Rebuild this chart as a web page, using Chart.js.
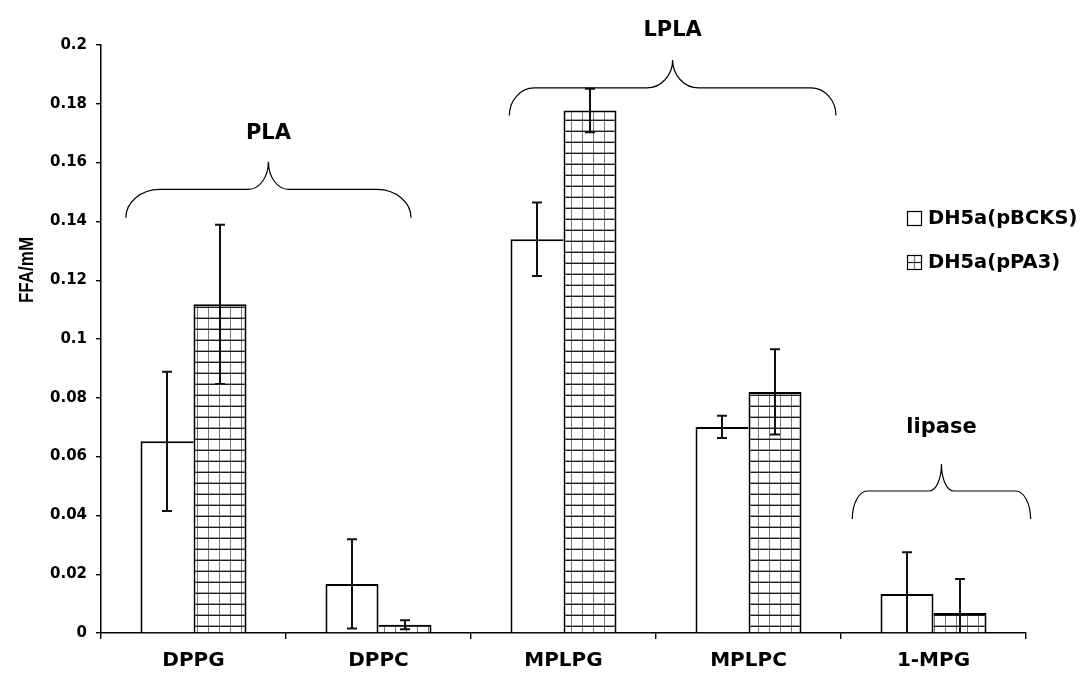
<!DOCTYPE html>
<html>
<head>
<meta charset="utf-8">
<script src="https://cdn.jsdelivr.net/npm/chart.js@4"></script>
<style>
  body { margin: 0; background: #fff; }
  #wrap { width: 1082px; height: 677px; }
</style>
</head>
<body>
<div id="wrap"><canvas id="chart" width="1082" height="677"></canvas></div>
<script>
const categories = ['DPPG', 'DPPC', 'MPLPG', 'MPLPC', '1-MPG'];
const seriesNames = ['DH5a(pBCKS)', 'DH5a(pPA3)'];
const pbcksValues = [0.0652, 0.0167, 0.1339, 0.0701, 0.0133];
const pbcksErrors = [0.0237, 0.0152, 0.0125, 0.0038, 0.0142];
const ppa3Values = [0.1118, 0.0028, 0.1777, 0.082, 0.0068];
const ppa3Errors = [0.0271, 0.0015, 0.0074, 0.0145, 0.0116];
const yMin = 0;
const yMax = 0.2;
const yStep = 0.02;
const yTitle = 'FFA/mM';

// brace annotations, in axis units (category index, y value)
const braces = [
  { label: 'PLA', from: -0.366, to: 1.176, yEnd: 0.1412, yLine: 0.1509, yPeak: 0.1603, yText: 0.1705, rx: 34, mw: 20 },
  { label: 'LPLA', from: 1.707, to: 3.473, yEnd: 0.176, yLine: 0.1854, yPeak: 0.1949, yText: 0.2058, rx: 25, mw: 26 },
  { label: 'lipase', from: 3.561, to: 4.525, yEnd: 0.0388, yLine: 0.0483, yPeak: 0.0575, yText: 0.0707, rx: 15, mw: 12 },
];

const canvas = document.getElementById('chart');
const ctx = canvas.getContext('2d');

function makeGridPattern() {
  const c = document.createElement('canvas');
  c.width = 11;
  c.height = 11;
  const g = c.getContext('2d');
  g.fillStyle = '#fff';
  g.fillRect(0, 0, 11, 11);
  g.fillStyle = '#7a7a7a';
  g.fillRect(10, 0, 1, 11);
  g.fillStyle = '#1a1a1a';
  g.fillRect(0, 9.6, 11, 1.4);
  return ctx.createPattern(c, 'repeat');
}
const gridPattern = makeGridPattern();

const errorLists = [pbcksErrors, ppa3Errors];

// only the taller bar of a pair draws the shared edge, so it stays a single line
function whiteBorder(c) {
  const j = c.dataIndex;
  return { top: 2, left: 2, bottom: 0, right: pbcksValues[j] >= ppa3Values[j] ? 2 : 0 };
}
function gridBorder(c) {
  const j = c.dataIndex;
  return { top: 2, right: 2, bottom: 0, left: ppa3Values[j] > pbcksValues[j] ? 2 : 0 };
}

const errorBars = {
  id: 'errorBars',
  afterDatasetsDraw(chart) {
    const y = chart.scales.y;
    const area = chart.chartArea;
    const c = chart.ctx;
    c.save();
    c.strokeStyle = '#111';
    c.lineWidth = 2;
    chart.data.datasets.forEach((ds, i) => {
      const meta = chart.getDatasetMeta(i);
      meta.data.forEach((bar, j) => {
        const v = ds.data[j];
        const e = errorLists[i][j];
        const top = y.getPixelForValue(v + e);
        const lowVal = v - e;
        const bot = Math.min(y.getPixelForValue(lowVal), area.bottom);
        c.beginPath();
        c.moveTo(bar.x, top);
        c.lineTo(bar.x, bot);
        c.moveTo(bar.x - 5, top);
        c.lineTo(bar.x + 5, top);
        if (lowVal > 0) {
          c.moveTo(bar.x - 5, bot);
          c.lineTo(bar.x + 5, bot);
        }
        c.stroke();
      });
    });
    c.restore();
  },
};

function drawBrace(c, x0, x1, yEnd, yLine, yPeak, rx, mw) {
  const xm = (x0 + x1) / 2;
  const ry = yEnd - yLine;
  const m = yLine - yPeak;
  const k = 0.55;
  c.beginPath();
  c.moveTo(x0, yEnd);
  c.bezierCurveTo(x0, yEnd - k * ry, x0 + rx - k * rx, yLine, x0 + rx, yLine);
  c.lineTo(xm - mw, yLine);
  c.bezierCurveTo(xm - mw + k * mw, yLine, xm, yPeak + k * m, xm, yPeak);
  c.bezierCurveTo(xm, yPeak + k * m, xm + mw - k * mw, yLine, xm + mw, yLine);
  c.lineTo(x1 - rx, yLine);
  c.bezierCurveTo(x1 - rx + k * rx, yLine, x1, yEnd - k * ry, x1, yEnd);
  c.stroke();
}

const extras = {
  id: 'extras',
  afterDraw(chart) {
    const c = chart.ctx;
    const xs = chart.scales.x;
    const ys = chart.scales.y;
    c.save();
    c.strokeStyle = '#000';
    c.lineWidth = 1.2;
    c.fillStyle = '#000';
    braces.forEach((b) => {
      const x0 = xs.getPixelForValue(b.from);
      const x1 = xs.getPixelForValue(b.to);
      drawBrace(c, x0, x1, ys.getPixelForValue(b.yEnd), ys.getPixelForValue(b.yLine),
        ys.getPixelForValue(b.yPeak), b.rx, b.mw);
      c.font = 'bold 21px "DejaVu Sans"';
      c.textAlign = 'center';
      c.textBaseline = 'alphabetic';
      c.fillText(b.label, (x0 + x1) / 2, ys.getPixelForValue(b.yText) + 7.6);
    });

    // legend
    c.font = 'bold 19.5px "DejaVu Sans"';
    c.textAlign = 'left';
    c.textBaseline = 'middle';
    seriesNames.forEach((name, i) => {
      const bx = 907;
      const by = 211 + i * 44;
      c.fillStyle = '#fff';
      c.fillRect(bx, by, 15, 15);
      c.lineWidth = 1.2;
      if (i === 1) {
        c.strokeStyle = '#7a7a7a';
        c.beginPath();
        c.moveTo(bx + 7.5, by);
        c.lineTo(bx + 7.5, by + 15);
        c.stroke();
        c.strokeStyle = '#1a1a1a';
        c.beginPath();
        c.moveTo(bx, by + 7.5);
        c.lineTo(bx + 15, by + 7.5);
        c.stroke();
      }
      c.strokeStyle = '#000';
      c.strokeRect(bx + 0.5, by + 0.5, 14, 14);
      c.fillStyle = '#000';
      c.fillText(name, 928, by + 8);
    });

    // y axis title
    c.save();
    c.translate(27, 270);
    c.rotate(-Math.PI / 2);
    c.scale(1, 1.2);
    c.font = 'bold 17px "Liberation Sans"';
    c.textAlign = 'center';
    c.textBaseline = 'middle';
    c.fillText(yTitle, 0, 0);
    c.restore();
    c.restore();
  },
};

new Chart(ctx, {
  type: 'bar',
  data: {
    labels: categories,
    datasets: [
      {
        label: seriesNames[0],
        data: pbcksValues,
        backgroundColor: '#fff',
        borderColor: '#000',
        borderWidth: whiteBorder,
      },
      {
        label: seriesNames[1],
        data: ppa3Values,
        backgroundColor: gridPattern,
        borderColor: '#000',
        borderWidth: gridBorder,
      },
    ],
  },
  options: {
    responsive: false,
    animation: false,
    categoryPercentage: 0.573,
    barPercentage: 1,
    layout: { padding: { top: 45, right: 56, left: 0, bottom: 0 } },
    plugins: {
      legend: { display: false },
      tooltip: { enabled: false },
    },
    scales: {
      x: {
        grid: { offset: true, drawOnChartArea: false, tickLength: 6, color: '#000', lineWidth: 1.4 },
        border: { color: '#000', width: 1.5 },
        ticks: {
          color: '#000',
          padding: 10,
          maxRotation: 0,
          font: { family: '"DejaVu Sans"', size: 20, weight: 'bold' },
        },
        afterFit: (s) => { s.height = 44; },
      },
      y: {
        min: yMin,
        max: yMax,
        grid: { drawOnChartArea: false, tickLength: 5, color: '#000', lineWidth: 1.4 },
        border: { color: '#000', width: 1.5 },
        ticks: {
          stepSize: yStep,
          color: '#000',
          padding: 9,
          font: { family: '"DejaVu Sans"', size: 15, weight: 'bold' },
          callback: (v) => String(Math.round(v * 100) / 100),
        },
        afterFit: (s) => { s.width = 101; },
      },
    },
  },
  plugins: [errorBars, extras],
});
</script>
</body>
</html>
